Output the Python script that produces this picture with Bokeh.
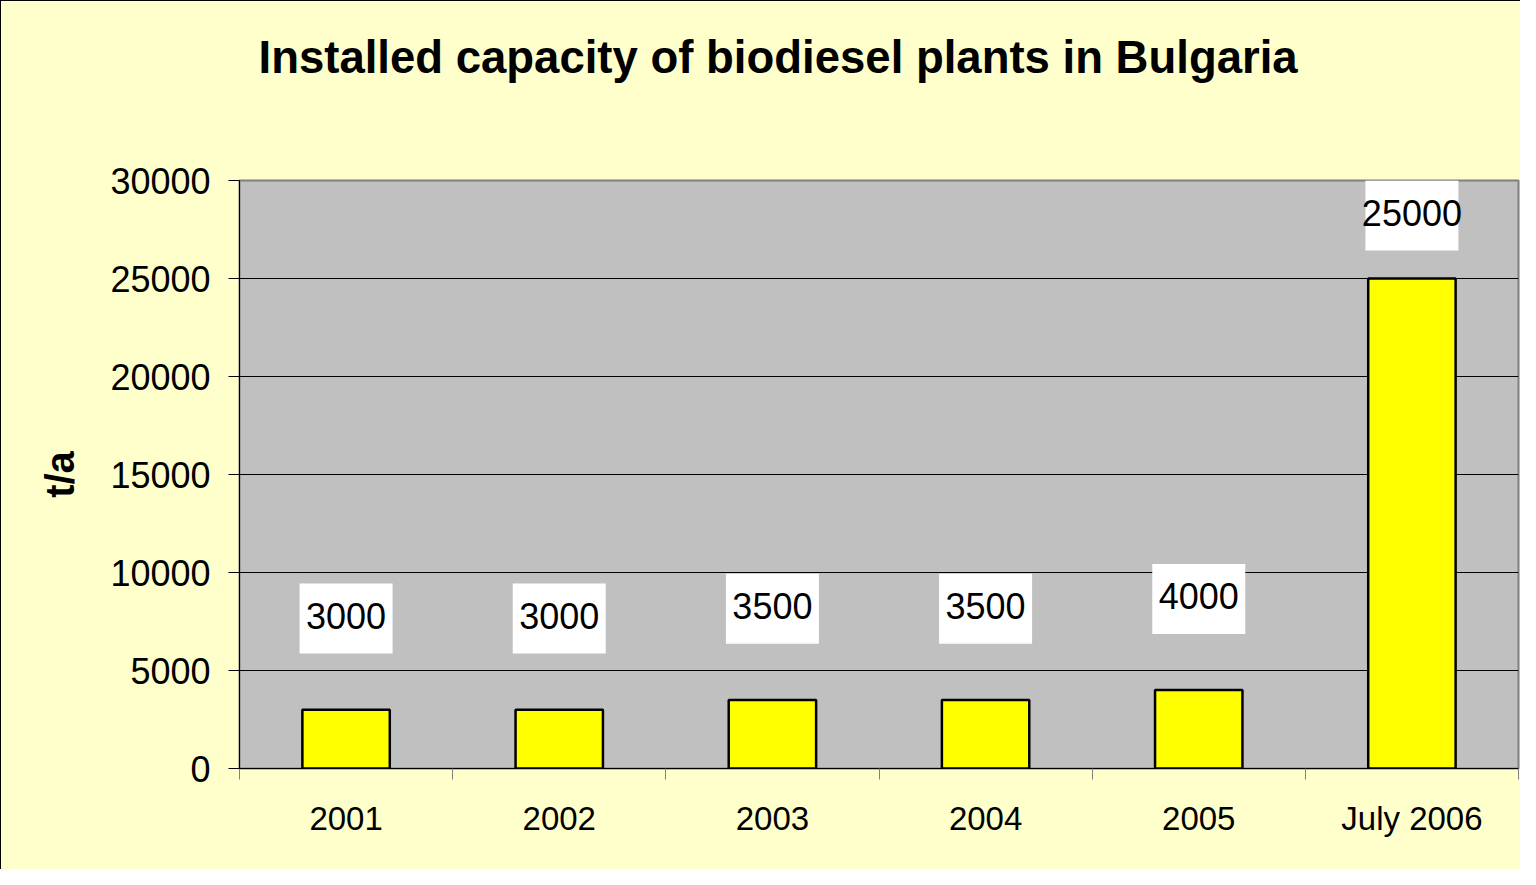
from bokeh.plotting import figure
from bokeh.models import FixedTicker, Range1d, NumeralTickFormatter, ColumnDataSource, Title
from bokeh.embed import file_html
from bokeh.resources import INLINE

# ---- data ----
categories = ["2001", "2002", "2003", "2004", "2005", "July 2006"]
capacity = [3000, 3000, 3500, 3500, 4000, 25000]
y_ticks = [0, 5000, 10000, 15000, 20000, 25000, 30000]
title_text = "Installed capacity of biodiesel plants in Bulgaria"
y_label = "t/a"

FONT = "Liberation Sans"
y_max = y_ticks[-1]

xs = [i + 0.5 for i in range(len(categories))]
bounds = list(range(len(categories) + 1))
# label positions: above the bar, kept inside the plot area (Excel style)
label_y = [min(v + 4650, y_max - 1790) for v in capacity]

src = ColumnDataSource(dict(x=xs, top=capacity, ly=label_y,
                            txt=[str(v) for v in capacity]))

p = figure(width=1520, height=869, output_backend="svg", toolbar_location=None,
           x_range=Range1d(0, len(categories)), y_range=Range1d(0, y_max),
           min_border_left=238, min_border_right=3, min_border_top=179,
           min_border_bottom=102)

p.background_fill_color = "#C0C0C0"
p.border_fill_color = "#FFFFCC"
p.outline_line_color = "#808080"
p.outline_line_width = 2

# title (outermost above panel), pushed up by an empty spacer title
p.title.text = title_text
p.title.text_font = FONT
p.title.text_font_style = "bold"
p.title.text_font_size = "45.5px"
p.title.text_color = "black"
p.title.align = "left"
p.title.offset = 19
p.title.standoff = 10
spacer = Title(text=" ", text_font_size="1px", standoff=90)
p.add_layout(spacer, "above")

# bars
p.vbar(x="x", top="top", width=0.41, bottom=0, source=src,
       fill_color="#FFFF00", line_color="black", line_width=2.5)

# value labels in white boxes
p.rect(x="x", y="ly", width=93, height=70, width_units="screen",
       height_units="screen", fill_color="white", line_color=None, source=src)
p.text(x="x", y="ly", text="txt", source=src, text_align="center",
       text_baseline="middle", text_font_size="36px", text_color="black",
       text_font={"value": FONT}, y_offset=-3)

# grid
p.xgrid.visible = False
p.ygrid.ticker = FixedTicker(ticks=y_ticks[1:-1])
p.ygrid.grid_line_color = "black"
p.ygrid.grid_line_width = 1

# y axis
p.yaxis.ticker = FixedTicker(ticks=y_ticks)
p.yaxis.formatter = NumeralTickFormatter(format="0")
p.yaxis.major_label_text_font = FONT
p.yaxis.major_label_text_font_size = "36px"
p.yaxis.major_label_text_color = "black"
p.yaxis.major_tick_in = 0
p.yaxis.major_tick_out = 11
p.yaxis.major_tick_line_color = "black"
p.yaxis.minor_tick_line_color = None
p.yaxis.axis_line_color = "black"
p.yaxis.axis_line_width = 1
p.yaxis.major_label_standoff = 18
p.yaxis.axis_label = y_label
p.yaxis.axis_label_text_font = FONT
p.yaxis.axis_label_text_font_style = "bold"
p.yaxis.axis_label_text_font_size = "40px"
p.yaxis.axis_label_text_color = "black"
p.yaxis.axis_label_standoff = 25

# x axis: labels at category centres, tick marks at category boundaries
p.xaxis.ticker = FixedTicker(ticks=xs, minor_ticks=bounds)
p.xaxis.major_label_overrides = {x: c for x, c in zip(xs, categories)}
p.xaxis.major_label_text_font = FONT
p.xaxis.major_label_text_font_size = "33px"
p.xaxis.major_label_text_color = "black"
p.xaxis.major_tick_in = 0
p.xaxis.major_tick_out = 0
p.xaxis.minor_tick_in = 0
p.xaxis.minor_tick_out = 11
p.xaxis.minor_tick_line_color = "#808080"
p.xaxis.axis_line_color = "black"
p.xaxis.major_label_standoff = 20

p.styles = {"border-top": "1px solid black", "border-left": "1px solid black"}

html = file_html(p, INLINE)
body_style = ('<body style="background:'
              'linear-gradient(to right,#8DB4F8,#EAF0FB) top left/100% 8px no-repeat,'
              'linear-gradient(#8DB4F8,#8DB4F8) top left/8px 100% no-repeat,'
              '#FFFFCC;">')
html = html.replace("<body>", body_style, 1)
open("out.html", "w").write(html)
